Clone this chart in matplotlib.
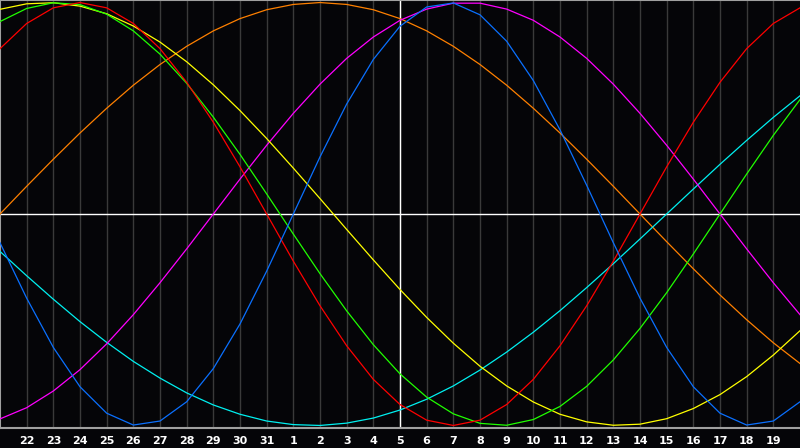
import matplotlib
matplotlib.use("Agg")
import matplotlib.pyplot as plt

# --- day labels along the bottom (index 1..29 on the grid) ---
day_labels = ["22", "23", "24", "25", "26", "27", "28", "29", "30", "31",
              "1", "2", "3", "4", "5", "6", "7", "8", "9", "10",
              "11", "12", "13", "14", "15", "16", "17", "18", "19"]
today_index = 15

# --- cycle values, one per day (day 21 .. day 20) ---
physical = [-0.136, -0.398, -0.631, -0.817, -0.942, -0.998, -0.979, -0.888,
            -0.731, -0.520, -0.270, 0.0, 0.270, 0.520, 0.731, 0.888, 0.979,
            0.998, 0.942, 0.817, 0.631, 0.398, 0.136, -0.136, -0.398, -0.631,
            -0.817, -0.942, -0.998, -0.979, -0.888]
emotional = [0.782, 0.901, 0.975, 1.0, 0.975, 0.901, 0.782, 0.623, 0.434,
             0.223, 0.0, -0.223, -0.434, -0.623, -0.782, -0.901, -0.975, -1.0,
             -0.975, -0.901, -0.782, -0.623, -0.434, -0.223, 0.0, 0.223, 0.434,
             0.623, 0.782, 0.901, 0.975]
intellectual = [0.910, 0.972, 0.999, 0.990, 0.945, 0.866, 0.756, 0.618, 0.458,
                0.282, 0.095, -0.095, -0.282, -0.458, -0.618, -0.756, -0.866,
                -0.945, -0.990, -0.999, -0.972, -0.910, -0.815, -0.690, -0.541,
                -0.372, -0.189, 0.0, 0.189, 0.372, 0.541]
intuitive = [-0.969, -0.916, -0.837, -0.736, -0.614, -0.476, -0.325, -0.165,
             0.0, 0.165, 0.325, 0.476, 0.614, 0.736, 0.837, 0.916, 0.969,
             0.997, 0.997, 0.969, 0.916, 0.837, 0.736, 0.614, 0.476, 0.325,
             0.165, 0.0, -0.165, -0.325, -0.476]
aesthetic = [0.968, 0.994, 0.999, 0.983, 0.947, 0.889, 0.813, 0.720, 0.611,
             0.489, 0.357, 0.217, 0.073, -0.073, -0.217, -0.357, -0.489,
             -0.611, -0.720, -0.813, -0.889, -0.947, -0.983, -0.999, -0.994,
             -0.968, -0.920, -0.854, -0.769, -0.667, -0.552]
awareness = [0.0, 0.131, 0.259, 0.383, 0.5, 0.609, 0.707, 0.793, 0.866, 0.924,
             0.966, 0.991, 1.0, 0.991, 0.966, 0.924, 0.866, 0.793, 0.707,
             0.609, 0.5, 0.383, 0.259, 0.131, 0.0, -0.131, -0.259, -0.383,
             -0.5, -0.609, -0.707]
spiritual = [-0.177, -0.292, -0.403, -0.509, -0.607, -0.697, -0.776, -0.846,
             -0.903, -0.947, -0.979, -0.996, -1.0, -0.989, -0.965, -0.927,
             -0.876, -0.813, -0.738, -0.653, -0.559, -0.457, -0.348, -0.235,
             -0.118, 0.0, 0.118, 0.235, 0.348, 0.457, 0.559]

series = [
    (awareness, "#ff8000"),
    (spiritual, "#00f0f0"),
    (intuitive, "#ff00ff"),
    (aesthetic, "#ffff00"),
    (intellectual, "#20ff00"),
    (emotional, "#ff0000"),
    (physical, "#0a70ff"),
]

bg = "#050508"
fig = plt.figure(figsize=(8, 4.48), dpi=100, facecolor=bg)
ax = fig.add_axes([0, 20 / 448, 1, 428 / 448])
ax.set_facecolor(bg)

days = list(range(len(physical)))
ax.set_xlim(0, len(days) - 1)
ax.set_ylim(-1.012, 1.012)

# vertical day grid
for i in range(1, len(days) - 1):
    ax.axvline(i, color="#3a3a3a", lw=1.0, zorder=1)

# today / zero cross lines
ax.axvline(today_index, color="white", lw=1.0, zorder=2)
ax.axhline(0, color="white", lw=1.0, zorder=2)

for vals, col in series:
    ax.plot(days, vals, color=col, lw=0.9, zorder=3)

ax.set_xticks(range(1, len(days) - 1))
ax.set_xticklabels(day_labels, color="white", fontsize=8, fontweight="bold")
ax.tick_params(axis="x", length=0, pad=6)
ax.set_yticks([])

for side in ["left", "top", "bottom"]:
    ax.spines[side].set_color("#a0a0a0")
    ax.spines[side].set_linewidth(1.5)
ax.spines["right"].set_visible(False)

fig.savefig("out.png", dpi=100, facecolor=bg)
